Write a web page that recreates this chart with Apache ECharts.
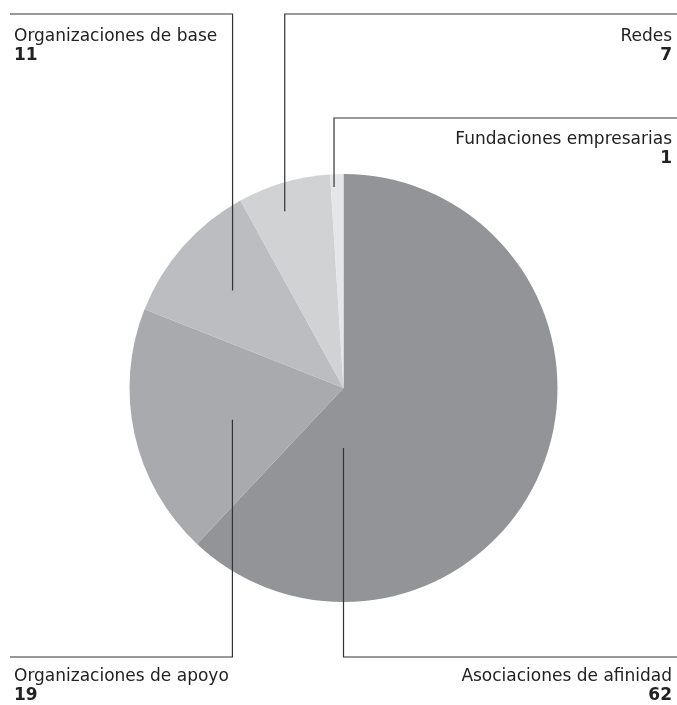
<!DOCTYPE html>
<html>
  <head>
    <meta charset="utf-8" />
    <script src="https://cdn.jsdelivr.net/npm/echarts/dist/echarts.min.js"></script>
  </head>
  <body style="margin:0;background:#fff;">
    <div id="pie-chart" style="width: 677px; height: 705px;"></div>
    <script>
        // Data
        var categories = ['Asociaciones de afinidad', 'Organizaciones de apoyo', 'Organizaciones de base', 'Redes', 'Fundaciones empresarias'];
        var values = [62, 19, 11, 7, 1];

        // Slice colours
        var colors = ['#939497', '#a9aaad', '#bcbdc0', '#d1d2d4', '#e5e6e7'];

        // Pie geometry
        var cx = 343.5, cy = 388, radius = 214;

        // Where each leader line starts inside the slice (angle clockwise from top, share of radius)
        // and where its label sits
        var anchors = [[180, 0.28], [254, 0.54], [311.3, 0.69], [341.6, 0.87], [357.3, 0.94]];
        var spots = [
            { side: 'right', lineY: 657, textY: 667 },
            { side: 'left',  lineY: 657, textY: 667 },
            { side: 'left',  lineY: 14,  textY: 27 },
            { side: 'right', lineY: 14,  textY: 27 },
            { side: 'right', lineY: 118, textY: 130 }
        ];

        function leaderPoints(i) {
            var a = anchors[i][0] * Math.PI / 180;
            var ax = cx + Math.sin(a) * radius * anchors[i][1];
            var ay = cy - Math.cos(a) * radius * anchors[i][1];
            var s = spots[i];
            var endX = s.side === 'left' ? 10 : 677;
            return [[ax, ay], [ax, s.lineY], [endX, s.lineY]];
        }

        var pieChart = echarts.init(document.getElementById('pie-chart'));

        var option = {
            animation: false,
            // leader lines drawn on top of the slices
            graphic: categories.map(function (name, i) {
                return {
                    type: 'polyline',
                    z: 100,
                    silent: true,
                    shape: { points: leaderPoints(i) },
                    style: { stroke: '#333', lineWidth: 1.2, fill: null }
                };
            }),
            series: [{
                type: 'pie',
                center: [cx, cy],
                radius: radius,
                startAngle: 90,
                clockwise: true,
                avoidLabelOverlap: false,
                silent: true,
                itemStyle: { borderWidth: 0 },
                label: {
                    show: true,
                    position: 'outside',
                    formatter: function (p) {
                        return '{n|' + p.name + '}\n{v|' + p.value + '}';
                    },
                    rich: {
                        n: { fontFamily: 'DejaVu Sans', fontSize: 17, color: '#222', lineHeight: 19 },
                        v: { fontFamily: 'DejaVu Sans', fontSize: 17, fontWeight: 'bold', color: '#222', lineHeight: 19 }
                    }
                },
                labelLine: { show: false },
                labelLayout: function (params) {
                    var s = spots[params.dataIndex];
                    return {
                        x: s.side === 'left' ? 14 : 672,
                        y: s.textY,
                        align: s.side,
                        verticalAlign: 'top'
                    };
                },
                data: categories.map(function (name, index) {
                    return {
                        name: name,
                        value: values[index],
                        itemStyle: { color: colors[index] }
                    };
                })
            }]
        };

        pieChart.setOption(option);
      </script>
  </body>
</html>
